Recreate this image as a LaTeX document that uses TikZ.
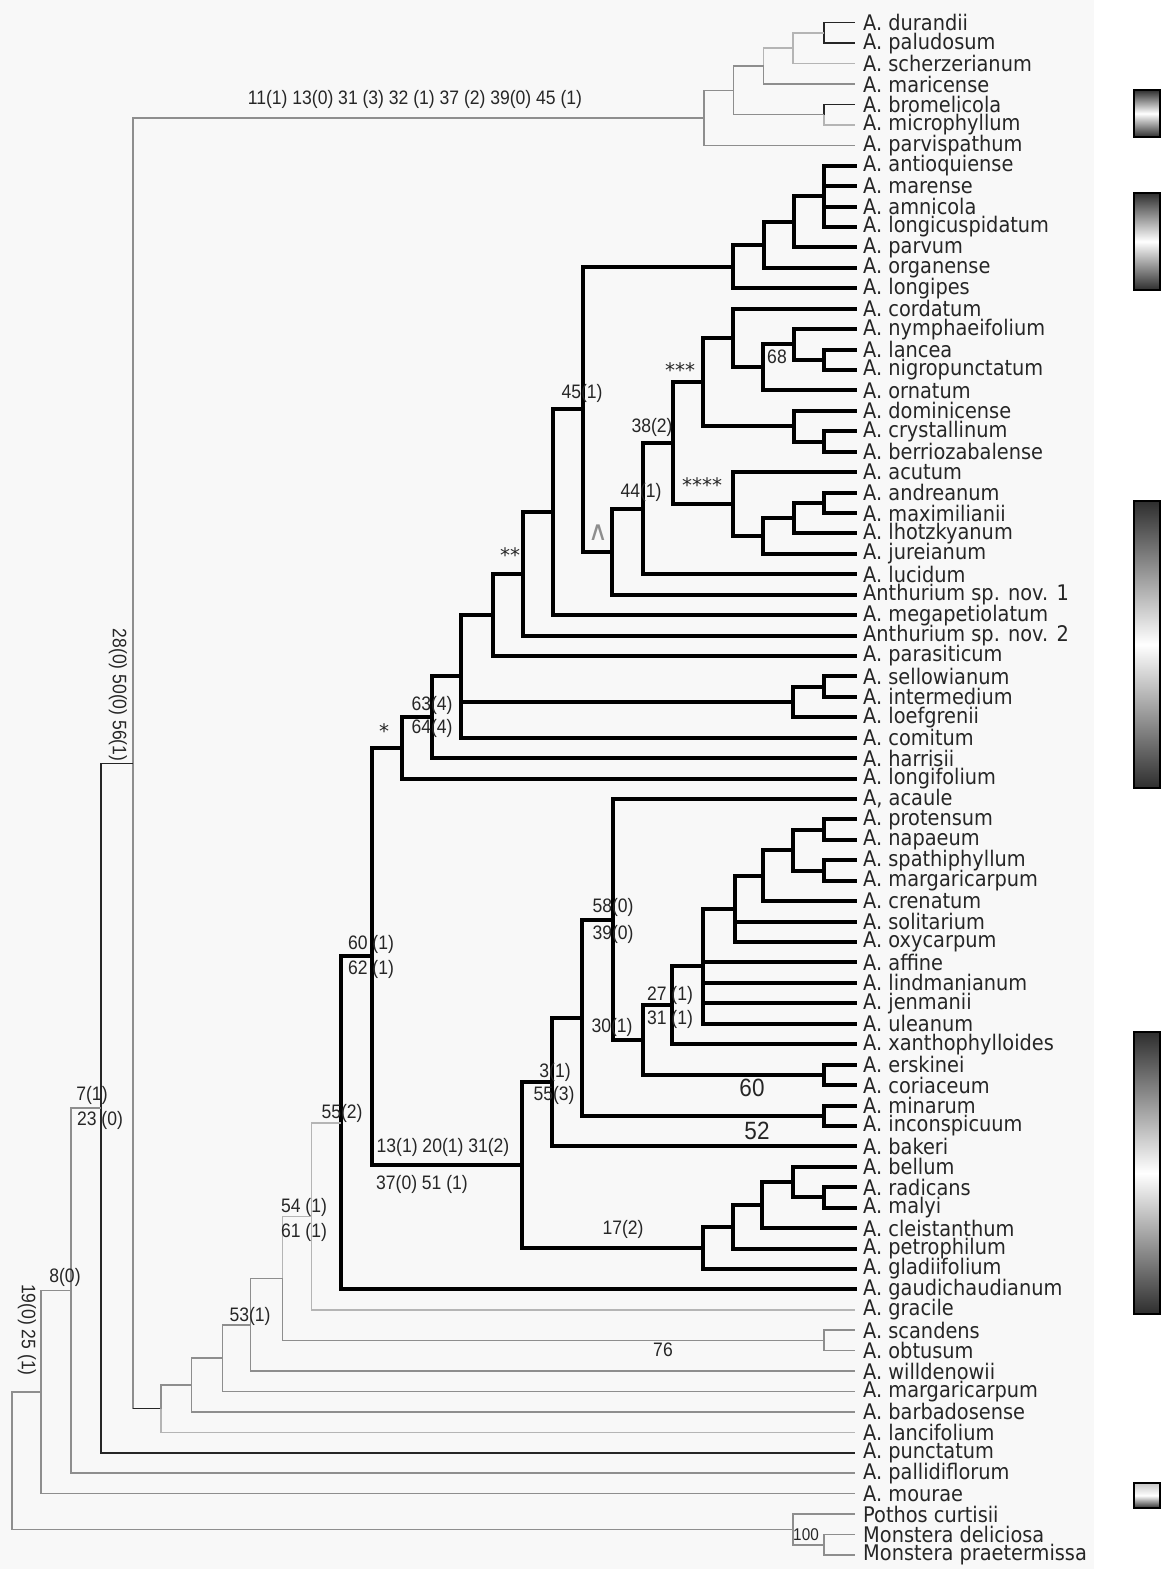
\documentclass[tikz,border=0pt]{standalone}
\usepackage{fontspec}
\setmainfont{DejaVu Sans}
\newfontfamily\taxfont[FakeStretch=0.9]{DejaVu Sans}
\newfontfamily\narrowfont[FakeStretch=0.9]{Liberation Sans}
\usetikzlibrary{calc}
\definecolor{txt}{HTML}{262626}
\definecolor{lg}{HTML}{B5B5B5}
\definecolor{mg}{HTML}{8E8E8E}
\definecolor{bgc}{HTML}{F8F8F8}
\definecolor{barc}{HTML}{2E2E2E}
\newcommand\mknode[4]{\path let \p1=(#3), \p2=(#4) in coordinate (#1) at (#2pt,{0.5*\y1+0.5*\y2});}
\newcommand\E[3]{\foreach \c in {#3}{\draw[#1] (#2) |- (\c);}}
\begin{document}
\begin{tikzpicture}[x=1pt,y=-1pt,
  thk/.style={line width=4pt,black,line join=miter,line cap=rect},
  thn/.style={line width=1.5pt,txt},
  gry/.style={line width=1.5pt,mg},
  lgt/.style={line width=1.5pt,lg},
  tax/.style={anchor=west,inner sep=0pt,font=\taxfont\fontsize{21.5}{22}\selectfont,text=txt},
  chr/.style={inner sep=0pt,font=\narrowfont\fontsize{19.5}{20}\selectfont,text=txt},
  big/.style={inner sep=0pt,font=\narrowfont\fontsize{25}{26}\selectfont,text=txt},
  astk/.style={inner sep=0pt,font=\fontsize{20}{20}\selectfont,text=txt},
  barbox/.style={line width=2pt,black}]
\useasboundingbox (0,0) rectangle (1161,1569);
\fill[bgc] (0,0) rectangle (1094,1569);
% taxa
\foreach \i/\nm in {1/A. durandii,2/A. paludosum,3/A. scherzerianum,4/A. maricense,5/A. bromelicola,6/A. microphyllum,7/A. parvispathum,8/A. antioquiense,9/A. marense,10/A. amnicola,11/A. longicuspidatum,12/A. parvum,13/A. organense,14/A. longipes,15/A. cordatum,16/A. nymphaeifolium,17/A. lancea,18/A. nigropunctatum,19/A. ornatum,20/A. dominicense,21/A. crystallinum,22/A. berriozabalense,23/A. acutum,24/A. andreanum,25/A. maximilianii,26/A. lhotzkyanum,27/A. jureianum,28/A. lucidum,29/Anthurium sp. nov. 1,30/A. megapetiolatum,31/Anthurium sp. nov. 2,32/A. parasiticum,33/A. sellowianum,34/A. intermedium,35/A. loefgrenii,36/A. comitum,37/A. harrisii,38/A. longifolium,39/{A, acaule},40/A. protensum,41/A. napaeum,42/A. spathiphyllum,43/A. margaricarpum,44/A. crenatum,45/A. solitarium,46/A. oxycarpum,47/A. affine,48/A. lindmanianum,49/A. jenmanii,50/A. uleanum,51/A. xanthophylloides,52/A. erskinei,53/A. coriaceum,54/A. minarum,55/A. inconspicuum,56/A. bakeri,57/A. bellum,58/A. radicans,59/A. malyi,60/A. cleistanthum,61/A. petrophilum,62/A. gladiifolium,63/A. gaudichaudianum,64/A. gracile,65/A. scandens,66/A. obtusum,67/A. willdenowii,68/A. margaricarpum,69/A. barbadosense,70/A. lancifolium,71/A. punctatum,72/A. pallidiflorum,73/A. mourae,74/Pothos curtisii,75/Monstera deliciosa,76/Monstera praetermissa}{
  \pgfmathsetmacro\yy{22.7+(\i-1)*20.43}
  \coordinate (t\i) at (855,\yy);
  \node[tax] (L\i) at (863,\yy) {\nm};
}
% top clade
\mknode{dp}{824}{t1}{t2}
\mknode{nA}{793}{dp}{t3}
\mknode{nB}{763.5}{nA}{t4}
\mknode{bm}{824}{t5}{t6}
\mknode{nC}{733.5}{nB}{bm}
\mknode{nD}{704}{nC}{t7}
% upper black clade
\mknode{an4}{824}{t8}{t11}
\mknode{an5}{794}{an4}{t12}
\mknode{an6}{763.5}{an5}{t13}
\mknode{an7}{733}{an6}{t14}
\mknode{lnl}{824}{t17}{t18}
\mknode{nym}{793.5}{t16}{lnl}
\mknode{n68}{762.5}{nym}{t19}
\mknode{cor}{733.3}{t15}{n68}
\mknode{cb}{824}{t21}{t22}
\mknode{dom}{794}{t20}{cb}
\mknode{n3s}{703.3}{cor}{dom}
\mknode{am}{824}{t24}{t25}
\mknode{lho}{794}{am}{t26}
\mknode{jur}{762.5}{lho}{t27}
\mknode{n4s}{733.3}{t23}{jur}
\mknode{n38}{673.3}{n3s}{n4s}
\mknode{n44}{643.3}{n38}{t28}
\mknode{ncar}{611.7}{n44}{t29}
\mknode{n45}{582.7}{an7}{ncar}
\mknode{nmeg}{552.7}{n45}{t30}
\mknode{n2s}{522.5}{nmeg}{t31}
\mknode{npar}{492.7}{n2s}{t32}
\mknode{si}{824}{t33}{t34}
\mknode{sil}{793.3}{si}{t35}
\mknode{n461}{461}{npar}{t36}
\mknode{n63}{431.7}{n461}{t37}
\mknode{n1s}{401.7}{n63}{t38}
% lower black clade
\mknode{pn}{824}{t40}{t41}
\mknode{sm}{824}{t42}{t43}
\mknode{ps}{793.3}{pn}{sm}
\mknode{cr}{762.7}{ps}{t44}
\mknode{ox}{735}{cr}{t46}
\mknode{n702}{702.7}{ox}{t50}
\mknode{n27}{672.3}{n702}{t51}
\mknode{ec}{824}{t52}{t53}
\mknode{n30}{643.3}{n27}{ec}
\mknode{n58}{613.3}{t39}{n30}
\mknode{mi}{824}{t54}{t55}
\mknode{n581}{581.7}{n58}{mi}
\mknode{n3}{551.7}{n581}{t56}
\mknode{rm}{824}{t58}{t59}
\mknode{br}{793.3}{t57}{rm}
\mknode{cl}{761.6}{br}{t60}
\mknode{pe}{732.6}{cl}{t61}
\mknode{n17}{702.8}{pe}{t62}
\mknode{n13}{521.7}{n3}{n17}
\mknode{n60}{371.5}{n1s}{n13}
\mknode{n55b}{340.5}{n60}{t63}
% outer grade
\mknode{n55}{311.7}{n55b}{t64}
\mknode{so}{824}{t65}{t66}
\mknode{n54}{282.3}{n55}{so}
\mknode{n53}{250.7}{n54}{t67}
\mknode{n222}{222.7}{n53}{t68}
\mknode{n191}{191.7}{n222}{t69}
\mknode{n161}{161}{n191}{t70}
\mknode{n133}{133}{nD}{n161}
\mknode{n101}{101}{n133}{t71}
\mknode{n71}{71}{n101}{t72}
\mknode{n41}{41}{n71}{t73}
\mknode{mo}{824}{t75}{t76}
\mknode{og}{793}{t74}{mo}
\mknode{root}{12}{n41}{og}
% ---- edges: top clade
\E{thn}{dp}{t1,t2}
\E{lgt}{nA}{dp,t3}
\E{lgt}{nB}{nA}
\E{gry}{nB}{t4}
\E{lgt}{bm}{t6}
\E{thn}{bm}{t5}
\E{gry}{nC}{nB,bm}
\E{gry}{nD}{nC,t7}
\E{gry}{n133}{nD,n161}
\draw[thn] (n133 |- n161) -- (n161);
% ---- edges: thick clades
\E{thk}{an4}{t8,t9,t10,t11}
\E{thk}{an5}{an4,t12}
\E{thk}{an6}{an5,t13}
\E{thk}{an7}{an6,t14}
\E{thk}{lnl}{t17,t18}
\E{thk}{nym}{t16,lnl}
\E{thk}{n68}{nym,t19}
\E{thk}{cor}{t15,n68}
\E{thk}{cb}{t21,t22}
\E{thk}{dom}{t20,cb}
\E{thk}{n3s}{cor,dom}
\E{thk}{am}{t24,t25}
\E{thk}{lho}{am,t26}
\E{thk}{jur}{lho,t27}
\E{thk}{n4s}{t23,jur}
\E{thk}{n38}{n3s,n4s}
\E{thk}{n44}{n38,t28}
\E{thk}{ncar}{n44,t29}
\E{thk}{n45}{an7,ncar}
\E{thk}{nmeg}{n45,t30}
\E{thk}{n2s}{nmeg,t31}
\E{thk}{npar}{n2s,t32}
\E{thk}{si}{t33,t34}
\E{thk}{sil}{si,t35}
\E{thk}{n461}{npar,sil,t36}
\E{thk}{n63}{n461,t37}
\E{thk}{n1s}{n63,t38}
\E{thk}{pn}{t40,t41}
\E{thk}{sm}{t42,t43}
\E{thk}{ps}{pn,sm}
\E{thk}{cr}{ps,t44}
\E{thk}{ox}{cr,t45,t46}
\E{thk}{n702}{ox,t47,t48,t49,t50}
\E{thk}{n27}{n702,t51}
\E{thk}{ec}{t52,t53}
\E{thk}{n30}{n27,ec}
\E{thk}{n58}{t39,n30}
\E{thk}{mi}{t54,t55}
\E{thk}{n581}{n58,mi}
\E{thk}{n3}{n581,t56}
\E{thk}{rm}{t58,t59}
\E{thk}{br}{t57,rm}
\E{thk}{cl}{br,t60}
\E{thk}{pe}{cl,t61}
\E{thk}{n17}{pe,t62}
\E{thk}{n13}{n3,n17}
\E{thk}{n60}{n1s,n13}
\E{thk}{n55b}{n60,t63}
% ---- edges: outer grade
\E{lgt}{n55}{n55b,t64}
\E{gry}{so}{t65,t66}
\E{lgt}{n54}{n55}
\E{gry}{n54}{so}
\E{gry}{n53}{n54,t67}
\E{gry}{n222}{n53,t68}
\E{gry}{n191}{n222,t69}
\E{gry}{n161}{n191}
\E{lgt}{n161}{t70}
\E{thn}{n101}{n133,t71}
\E{gry}{n71}{n101,t72}
\E{gry}{n41}{n71,t73}
\E{gry}{root}{n41,og}
\E{gry}{og}{t74,mo}
\E{gry}{mo}{t75,t76}
% ---- character labels
\node[chr] (k1) at (415,99) {11(1) 13(0) 31 (3) 32 (1) 37 (2) 39(0) 45 (1)};
\node[chr,rotate=-90] (k2) at (118,695) {28(0) 50(0) 56(1)};
\node[chr] (k3) at (582,393) {45(1)};
\node[chr] (k4) at (652,427) {38(2)};
\node[astk] (k5) at (680,370) {***};
\node[chr] (k6) at (777,357) {68};
\node[astk] (k7) at (702,485) {****};
\node[chr] (k8) at (641,492) {44(1)};
\node[inner sep=0pt,font=\fontsize{27}{27}\selectfont,text=mg] (k9) at (598,533) {∧};
\node[astk] (k10) at (510,555) {**};
\node[chr] (k11) at (432,705) {63(4)};
\node[chr] (k12) at (432,728) {64(4)};
\node[astk] (k13) at (384,731) {*};
\node[chr] (k14) at (371,944) {60 (1)};
\node[chr] (k15) at (371,969) {62 (1)};
\node[chr] (k16) at (613,907) {58(0)};
\node[chr] (k17) at (613,934) {39(0)};
\node[chr] (k18) at (670,995) {27 (1)};
\node[chr] (k19) at (670,1019) {31 (1)};
\node[chr] (k20) at (612,1027) {30(1)};
\node[chr] (k21) at (555,1072) {3(1)};
\node[chr] (k22) at (554,1095) {55(3)};
\node[big] (k23) at (752,1088) {60};
\node[big] (k24) at (757,1131) {52};
\node[chr] (k25) at (443,1147) {13(1) 20(1) 31(2)};
\node[chr] (k26) at (422,1184) {37(0) 51 (1)};
\node[chr] (k27) at (623,1229) {17(2)};
\node[chr] (k28) at (342,1113) {55(2)};
\node[chr] (k29) at (304,1207) {54 (1)};
\node[chr] (k30) at (304,1232) {61 (1)};
\node[chr] (k31) at (250,1316) {53(1)};
\node[chr] (k32) at (663,1350) {76};
\node[chr] (k33) at (65,1277) {8(0)};
\node[chr] (k34) at (92,1095) {7(1)};
\node[chr] (k35) at (100,1120) {23 (0)};
\node[chr,rotate=-90] (k36) at (27,1330) {19(0) 25 (1)};
\node[chr,font=\narrowfont\fontsize{17}{18}\selectfont] (k37) at (806,1535) {100};
% ---- gradient bars
\shade[top color=barc,bottom color=barc,middle color=white] (1134,90) rectangle (1160,137);
\draw[barbox] (1134,90) rectangle (1160,137);
\shade[top color=barc,bottom color=barc,middle color=white] (1134,193) rectangle (1160,290);
\draw[barbox] (1134,193) rectangle (1160,290);
\shade[top color=barc,bottom color=barc,middle color=white] (1134,501) rectangle (1160,788);
\draw[barbox] (1134,501) rectangle (1160,788);
\shade[top color=barc,bottom color=barc,middle color=white] (1134,1032) rectangle (1160,1314);
\draw[barbox] (1134,1032) rectangle (1160,1314);
\shade[top color=gray!45,bottom color=barc,middle color=white] (1134,1483) rectangle (1160,1508);
\draw[barbox] (1134,1483) rectangle (1160,1508);
\end{tikzpicture}
\end{document}
